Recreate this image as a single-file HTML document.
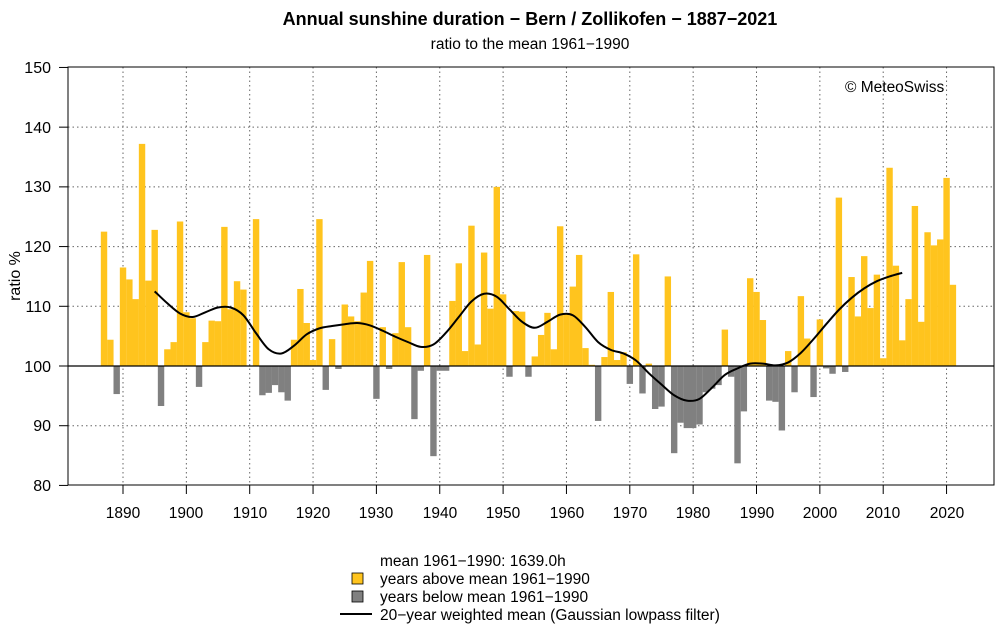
<!DOCTYPE html>
<html><head><meta charset="utf-8"><style>
body{margin:0;background:#fff;}
svg{font-family:"Liberation Sans",sans-serif;}
</style></head><body>
<svg id="c" width="1000" height="636" viewBox="0 0 1000 636" xmlns="http://www.w3.org/2000/svg">
<rect width="1000" height="636" fill="#fff"/>
<g id="grid" stroke="#666" stroke-width="1" stroke-dasharray="1.5,3"></g>
<g id="bars"></g>
<line x1="68" y1="366" x2="994" y2="366" stroke="#000" stroke-width="1.2"/>
<path id="curve" fill="none" stroke="#000" stroke-width="2"/>
<rect x="68" y="67" width="926" height="418" fill="none" stroke="#000" stroke-width="1"/>
<g id="ticks" stroke="#000"></g>
<text x="530" y="25" text-anchor="middle" font-size="18" font-weight="bold">Annual sunshine duration − Bern / Zollikofen − 1887−2021</text>
<text x="530" y="49" text-anchor="middle" font-size="15.5">ratio to the mean 1961−1990</text>
<text x="845" y="92" font-size="15.5">© MeteoSwiss</text>
<g font-size="16" text-anchor="end">
<text x="51" y="73">150</text><text x="51" y="133">140</text><text x="51" y="192">130</text>
<text x="51" y="252">120</text><text x="51" y="312">110</text><text x="51" y="372">100</text>
<text x="51" y="431">90</text><text x="51" y="491">80</text>
</g>
<text transform="translate(20,276) rotate(-90)" text-anchor="middle" font-size="16">ratio %</text>
<g font-size="15.5" text-anchor="middle">
<text x="123" y="518">1890</text><text x="186" y="518">1900</text><text x="250" y="518">1910</text>
<text x="313" y="518">1920</text><text x="376" y="518">1930</text><text x="440" y="518">1940</text>
<text x="503" y="518">1950</text><text x="567" y="518">1960</text><text x="630" y="518">1970</text>
<text x="693" y="518">1980</text><text x="757" y="518">1990</text><text x="820" y="518">2000</text>
<text x="883" y="518">2010</text><text x="947" y="518">2020</text>
</g>
<g font-size="15.5">
<text x="380" y="566">mean 1961−1990: 1639.0h</text>
<rect x="352" y="573" width="11" height="11" fill="#FFC41E" stroke="#000" stroke-width="0.8"/>
<text x="380" y="584">years above mean 1961−1990</text>
<rect x="352" y="591" width="11" height="11" fill="#808080" stroke="#000" stroke-width="0.8"/>
<text x="380" y="602">years below mean 1961−1990</text>
<line x1="340" y1="614" x2="372" y2="614" stroke="#000" stroke-width="2"/>
<text x="380" y="620">20−year weighted mean (Gaussian lowpass filter)</text>
</g>
</svg>
<script>
var v=[122.5,104.4,95.3,116.5,114.5,111.2,137.2,114.3,122.8,93.3,102.8,104,124.2,109,108,96.5,104,107.6,107.5,123.3,109.5,114.2,112.8,100,124.6,95.1,95.5,96.8,95.6,94.2,104.4,112.9,107.2,101,124.6,96,104.5,99.5,110.3,108.3,107.5,112.3,117.6,94.5,106.5,99.5,105.5,117.4,106.5,91.1,99.2,118.6,84.9,99.2,99.2,110.9,117.2,102.5,123.5,103.6,119,109.6,130,112,98.2,109.2,109.1,98.2,101.6,105.2,108.9,102.8,123.4,108.7,113.3,118.6,103,100.2,90.8,101.5,112.4,101,102.3,97,118.7,95.4,100.4,92.8,93.2,115,85.4,90.5,89.6,89.6,90.2,95.6,96.2,96.8,106.1,98.2,83.7,92.4,114.7,112.4,107.7,94.2,94,89.2,102.5,95.6,111.7,104.6,94.8,107.8,99.6,98.7,128.2,99,114.9,108.3,118.4,109.7,115.3,101.3,133.2,116.8,104.3,111.2,126.8,107.4,122.4,120.2,121.2,131.5,113.6];
var X=function(y){return 123+(y-1890)*6.335;},Y=function(v){return 366-(v-100)*5.971;};
var ns="http://www.w3.org/2000/svg";
function el(p,t,a){var e=document.createElementNS(ns,t);for(var k in a)e.setAttribute(k,a[k]);p.appendChild(e);return e;}
var b=document.getElementById('bars'),g=document.getElementById('grid'),t=document.getElementById('ticks');
v.forEach(function(val,i){var yr=1887+i,x=X(yr)-3.17,y=Y(val);
el(b,'rect',{x:x,y:Math.min(y,366),width:6.4,height:Math.abs(366-y),fill:val>=100?'#FFC41E':'#808080'});});
for(var d=1890;d<=2020;d+=10){var x=X(d);el(g,'line',{x1:x,y1:67,x2:x,y2:485});el(t,'line',{x1:x,y1:485,x2:x,y2:494});}
for(var d=1880;d<=2030;d+=10){var x=X(d);if(x>68&&x<994&&(d<1890||d>2020))el(t,'line',{x1:x,y1:485,x2:x,y2:494});}
for(var k=90;k<=140;k+=10){var y=Y(k);el(g,'line',{x1:68,y1:y,x2:994,y2:y});}
for(var k=80;k<=150;k+=10){var y=Y(k);el(t,'line',{x1:59,y1:y,x2:68,y2:y});}
var c=[112.5,110.5,108.8,108.2,109,109.8,109.8,108.5,105.5,102.8,102.1,103.4,105.3,106.3,106.7,107,107.2,106.8,105.9,104.9,104,103.2,103.6,105.6,108.2,110.8,112.1,111.6,109.5,107.4,106.4,107.4,108.6,108.5,106.5,104,102.7,102.1,100.9,98.8,96.9,95.1,94.2,94.5,96.4,98.5,99.6,100.4,100.4,100.1,100.6,102.2,104.5,107,109.4,111.4,113,114.2,115,115.6];
var pts=c.map(function(val,i){return [X(1895+2*i),Y(val)];});
var d='M'+pts[0][0]+','+pts[0][1];
for(var i=0;i<pts.length-1;i++){var p0=pts[Math.max(i-1,0)],p1=pts[i],p2=pts[i+1],p3=pts[Math.min(i+2,pts.length-1)];
d+=' C'+(p1[0]+(p2[0]-p0[0])/6)+','+(p1[1]+(p2[1]-p0[1])/6)+' '+(p2[0]-(p3[0]-p1[0])/6)+','+(p2[1]-(p3[1]-p1[1])/6)+' '+p2[0]+','+p2[1];}
document.getElementById('curve').setAttribute('d',d);
</script>
</body></html>
